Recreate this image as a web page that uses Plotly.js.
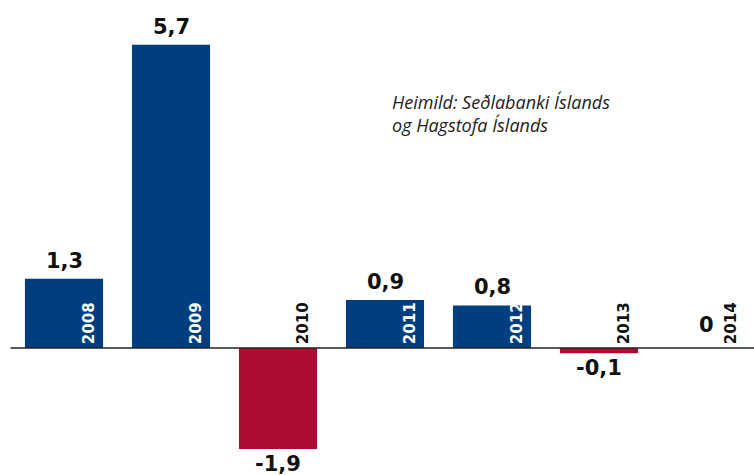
<!DOCTYPE html>
<html>
<head>
<meta charset="utf-8">
<script src="https://cdn.plot.ly/plotly-3.0.1.min.js"></script>
<style>html,body{margin:0;padding:0;background:#fff;}#chart{width:754px;height:475px;}</style>
</head>
<body>
<div id="chart"></div>
<script>
const years = ["2008", "2009", "2010", "2011", "2012", "2013", "2014"];
const values = [1.3, 5.7, -1.9, 0.9, 0.8, -0.1, 0];
const valueLabels = ["1,3", "5,7", "-1,9", "0,9", "0,8", "-0,1", "0"];
const sourceText = "Heimild: Seðlabanki Íslands<br>og Hagstofa Íslands";

const BLUE = "#003f7f", RED = "#ad0c32";
const xs = years.map((_, i) => i);

const trace = {
  type: "bar",
  x: xs,
  y: values,
  width: 0.73,
  marker: { color: values.map(v => v < 0 ? RED : BLUE) },
  hoverinfo: "skip"
};

const annotations = [];
values.forEach((v, i) => {
  annotations.push({
    x: i, y: v, xref: "x", yref: "y",
    text: "<b>" + valueLabels[i] + "</b>", showarrow: false,
    font: { family: "DejaVu Sans", size: 21, color: "#111" },
    yanchor: v < 0 ? "top" : "bottom",
    yshift: v < 0 ? -1 : (v === 0 ? 9 : 4)
  });
  annotations.push({
    x: i + 0.235, y: 0, xref: "x", yref: "y",
    text: "<b>" + years[i] + "</b>", showarrow: false, textangle: -90,
    font: { family: "DejaVu Sans", size: 15, color: v > 0 ? "#ffffff" : "#111" },
    yanchor: "bottom", xanchor: "center", yshift: 2
  });
});
annotations.push({
  x: 390 / 754, y: 1 - 88 / 475, xref: "paper", yref: "paper",
  xanchor: "left", yanchor: "top", align: "left",
  text: "<i>" + sourceText + "</i>", showarrow: false,
  font: { family: "Open Sans", size: 18, color: "#222" }
});

const layout = {
  width: 754, height: 475,
  margin: { l: 0, r: 0, t: 0, b: 0 },
  paper_bgcolor: "#fff", plot_bgcolor: "#fff",
  showlegend: false,
  xaxis: { range: [-64 / 107, (754 - 64) / 107], visible: false, fixedrange: true },
  yaxis: { range: [-(475 - 348) / 53.2, 348 / 53.2], visible: false, fixedrange: true },
  shapes: [{
    type: "line", layer: "above", xref: "x", yref: "y",
    x0: -0.5, x1: (754 - 64) / 107, y0: 0, y1: 0,
    line: { color: "#222", width: 1.6 }
  }],
  annotations: annotations
};

Plotly.newPlot("chart", [trace], layout, { displayModeBar: false, staticPlot: true });
</script>
</body>
</html>
